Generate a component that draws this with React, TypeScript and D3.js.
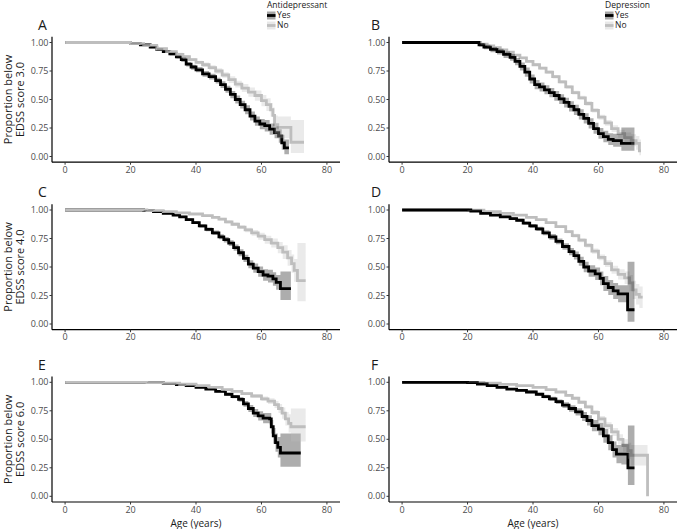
import React from "react";
import * as d3 from "d3";

type Row = [number, number, number, number]; // age, survival, lower, upper

const xTicks = [0, 20, 40, 60, 80];
const yTicks = [0, 0.25, 0.5, 0.75, 1];
const yTickLabels = ["0.00", "0.25", "0.50", "0.75", "1.00"];
const groups = ["Yes", "No"];
const legendTitles = ["Antidepressant", "Depression"];
const edssScores = ["3.0", "4.0", "6.0"];
const panelLetters = ["A", "B", "C", "D", "E", "F"];
const xTitle = "Age (years)";

const aYes: Row[] = [
  [0, 1, 1, 1], [20, 0.99, 0.985, 0.995], [23, 0.98, 0.97, 0.99], [26, 0.96, 0.95, 0.97],
  [28, 0.94, 0.93, 0.95], [30, 0.92, 0.91, 0.935], [32, 0.9, 0.885, 0.915], [34, 0.875, 0.86, 0.89],
  [35.5, 0.85, 0.83, 0.87], [37, 0.81, 0.79, 0.83], [38.5, 0.785, 0.76, 0.805], [40, 0.76, 0.74, 0.785],
  [42, 0.725, 0.7, 0.75], [44, 0.7, 0.675, 0.725], [46, 0.665, 0.64, 0.69], [47.5, 0.63, 0.6, 0.66],
  [49, 0.59, 0.56, 0.62], [50.5, 0.545, 0.51, 0.575], [52, 0.5, 0.465, 0.535], [53.5, 0.455, 0.42, 0.49],
  [55, 0.41, 0.37, 0.45], [56.5, 0.355, 0.315, 0.395], [58, 0.31, 0.27, 0.35], [59.5, 0.285, 0.24, 0.33],
  [61, 0.27, 0.22, 0.32], [62.5, 0.24, 0.19, 0.29], [64, 0.21, 0.16, 0.265], [65.3, 0.18, 0.12, 0.24],
  [66.2, 0.12, 0.06, 0.19], [67, 0.075, 0.02, 0.15], [68.4, 0.075, 0.02, 0.15],
];
const aNo: Row[] = [
  [0, 1, 1, 1], [20, 0.99, 0.985, 0.995], [24, 0.975, 0.97, 0.98], [28, 0.945, 0.935, 0.955],
  [31, 0.92, 0.91, 0.93], [34, 0.895, 0.88, 0.91], [36, 0.875, 0.86, 0.89], [38, 0.85, 0.835, 0.865],
  [40, 0.825, 0.81, 0.84], [42, 0.805, 0.785, 0.825], [44, 0.78, 0.76, 0.8], [46, 0.75, 0.725, 0.775],
  [48, 0.715, 0.69, 0.74], [50, 0.675, 0.645, 0.705], [52, 0.635, 0.605, 0.665], [54, 0.6, 0.565, 0.635],
  [56, 0.565, 0.525, 0.605], [58, 0.535, 0.49, 0.58], [60, 0.49, 0.44, 0.54], [61.5, 0.455, 0.4, 0.51],
  [62.8, 0.41, 0.35, 0.47], [63.5, 0.36, 0.29, 0.43], [64, 0.28, 0.2, 0.36], [65, 0.255, 0.16, 0.35],
  [69, 0.125, 0.03, 0.32], [73, 0.125, 0.03, 0.32],
];
const bYes: Row[] = [
  [0, 1, 1, 1], [22, 1, 1, 1], [23.5, 0.98, 0.965, 0.995], [25, 0.96, 0.94, 0.98], [27, 0.94, 0.915, 0.96],
  [29, 0.92, 0.895, 0.945], [31, 0.895, 0.865, 0.92], [33, 0.87, 0.84, 0.9], [34.5, 0.835, 0.8, 0.865],
  [36, 0.79, 0.755, 0.825], [37.5, 0.74, 0.7, 0.78], [39, 0.68, 0.64, 0.72], [40.5, 0.63, 0.59, 0.67],
  [42, 0.61, 0.57, 0.65], [43.5, 0.585, 0.545, 0.625], [45, 0.56, 0.52, 0.6], [46.5, 0.535, 0.49, 0.575],
  [48, 0.505, 0.46, 0.545], [49.5, 0.475, 0.43, 0.515], [51, 0.44, 0.395, 0.485], [52.5, 0.41, 0.365, 0.455],
  [54, 0.37, 0.325, 0.415], [55.5, 0.335, 0.29, 0.38], [57, 0.29, 0.245, 0.335], [58.5, 0.245, 0.2, 0.295],
  [60, 0.2, 0.155, 0.25], [61.5, 0.175, 0.125, 0.225], [63, 0.15, 0.1, 0.205], [64.5, 0.14, 0.085, 0.2],
  [67, 0.115, 0.05, 0.255], [71, 0.115, 0.05, 0.255],
];
const bNo: Row[] = [
  [0, 1, 1, 1], [22, 1, 1, 1], [24, 0.985, 0.98, 0.99], [26, 0.97, 0.965, 0.975], [28, 0.955, 0.948, 0.962],
  [30, 0.935, 0.927, 0.943], [32, 0.915, 0.906, 0.924], [34, 0.89, 0.88, 0.9], [36, 0.865, 0.855, 0.875],
  [38, 0.835, 0.824, 0.846], [40, 0.805, 0.793, 0.817], [42, 0.775, 0.762, 0.788], [44, 0.74, 0.726, 0.754],
  [46, 0.7, 0.685, 0.715], [48, 0.655, 0.64, 0.67], [50, 0.61, 0.594, 0.626], [52, 0.56, 0.543, 0.577],
  [54, 0.515, 0.497, 0.533], [56, 0.465, 0.446, 0.484], [58, 0.405, 0.385, 0.425], [60, 0.345, 0.323, 0.367],
  [62, 0.295, 0.27, 0.32], [64, 0.245, 0.215, 0.275], [66, 0.2, 0.165, 0.235], [68, 0.165, 0.125, 0.21],
  [70, 0.14, 0.09, 0.195], [71.5, 0.115, 0.06, 0.18], [72.5, 0.05, 0.01, 0.15], [73, 0.05, 0.01, 0.15],
];
const cYes: Row[] = [
  [0, 1, 1, 1], [24, 0.995, 0.99, 1], [27, 0.985, 0.98, 0.99], [30, 0.97, 0.963, 0.977], [33, 0.955, 0.946, 0.964],
  [35, 0.94, 0.93, 0.95], [37, 0.915, 0.903, 0.927], [39, 0.89, 0.877, 0.903], [41, 0.86, 0.845, 0.875],
  [43, 0.83, 0.813, 0.847], [45, 0.8, 0.78, 0.82], [47, 0.765, 0.743, 0.787], [48.5, 0.74, 0.716, 0.764],
  [50, 0.71, 0.685, 0.735], [51.5, 0.67, 0.643, 0.697], [53, 0.625, 0.595, 0.655], [54.5, 0.575, 0.543, 0.607],
  [56, 0.525, 0.49, 0.56], [57.5, 0.49, 0.45, 0.53], [59, 0.46, 0.415, 0.505], [60.5, 0.43, 0.38, 0.48],
  [62, 0.42, 0.365, 0.475], [63.5, 0.395, 0.335, 0.455], [64.5, 0.365, 0.3, 0.43], [65.8, 0.31, 0.21, 0.46],
  [69, 0.31, 0.21, 0.46],
];
const cNo: Row[] = [
  [0, 1, 1, 1], [25, 0.995, 0.99, 1], [30, 0.985, 0.98, 0.99], [34, 0.975, 0.97, 0.98], [38, 0.965, 0.958, 0.972],
  [42, 0.95, 0.942, 0.958], [45, 0.935, 0.925, 0.945], [47, 0.92, 0.908, 0.932], [49, 0.895, 0.882, 0.908],
  [51, 0.875, 0.86, 0.89], [53, 0.85, 0.833, 0.867], [55, 0.825, 0.805, 0.845], [57, 0.8, 0.775, 0.825],
  [59, 0.77, 0.74, 0.8], [61, 0.74, 0.705, 0.775], [63, 0.71, 0.67, 0.75], [65, 0.67, 0.62, 0.72],
  [66.5, 0.63, 0.57, 0.69], [68, 0.58, 0.51, 0.65], [69.2, 0.53, 0.45, 0.61], [70, 0.47, 0.37, 0.57],
  [71, 0.38, 0.2, 0.71], [73.5, 0.38, 0.2, 0.71],
];
const dYes: Row[] = [
  [0, 1, 1, 1], [19, 1, 1, 1], [21, 0.99, 0.985, 0.995], [24, 0.97, 0.962, 0.978], [27, 0.955, 0.945, 0.965],
  [30, 0.94, 0.929, 0.951], [33, 0.925, 0.913, 0.937], [35, 0.91, 0.897, 0.923], [37, 0.885, 0.87, 0.9],
  [39, 0.86, 0.843, 0.877], [41, 0.835, 0.816, 0.854], [43, 0.8, 0.778, 0.822], [45, 0.765, 0.74, 0.79],
  [47, 0.725, 0.7, 0.75], [49, 0.68, 0.652, 0.708], [51, 0.635, 0.603, 0.667], [52.5, 0.6, 0.565, 0.635],
  [54, 0.55, 0.51, 0.59], [55.5, 0.5, 0.455, 0.545], [57, 0.465, 0.415, 0.515], [59, 0.44, 0.385, 0.495],
  [60.5, 0.4, 0.34, 0.46], [61.5, 0.355, 0.29, 0.42], [63, 0.32, 0.255, 0.385], [64.5, 0.29, 0.22, 0.36],
  [66, 0.265, 0.19, 0.34], [68.9, 0.125, 0.02, 0.545], [71, 0.125, 0.02, 0.545],
];
const dNo: Row[] = [
  [0, 1, 1, 1], [20, 0.998, 0.995, 1], [25, 0.985, 0.981, 0.989], [30, 0.97, 0.965, 0.975], [34, 0.955, 0.949, 0.961],
  [38, 0.935, 0.928, 0.942], [41, 0.915, 0.907, 0.923], [44, 0.89, 0.88, 0.9], [47, 0.855, 0.843, 0.867],
  [50, 0.81, 0.796, 0.824], [52, 0.775, 0.759, 0.791], [54, 0.735, 0.717, 0.753], [56, 0.69, 0.67, 0.71],
  [58, 0.64, 0.617, 0.663], [60, 0.585, 0.56, 0.61], [62, 0.53, 0.5, 0.56], [64, 0.475, 0.44, 0.51],
  [66, 0.435, 0.39, 0.48], [68, 0.405, 0.35, 0.46], [69.5, 0.36, 0.29, 0.43], [70.5, 0.3, 0.22, 0.38],
  [71.5, 0.26, 0.17, 0.35], [72.5, 0.235, 0.14, 0.33], [73.5, 0.235, 0.14, 0.33],
];
const eYes: Row[] = [
  [0, 1, 1, 1], [25, 0.998, 0.996, 1], [30, 0.99, 0.987, 0.993], [34, 0.98, 0.976, 0.984], [37, 0.97, 0.965, 0.975],
  [40, 0.955, 0.948, 0.962], [43, 0.94, 0.932, 0.948], [46, 0.92, 0.91, 0.93], [49, 0.895, 0.883, 0.907],
  [51, 0.875, 0.861, 0.889], [53, 0.85, 0.83, 0.87], [54.5, 0.81, 0.785, 0.835], [56, 0.77, 0.74, 0.8],
  [57.5, 0.73, 0.695, 0.765], [59, 0.705, 0.665, 0.745], [60.5, 0.685, 0.64, 0.73], [62.5, 0.68, 0.63, 0.73],
  [63, 0.61, 0.55, 0.67], [63.6, 0.53, 0.46, 0.6], [64.3, 0.47, 0.39, 0.55], [65, 0.43, 0.34, 0.52],
  [65.8, 0.38, 0.26, 0.55], [72, 0.38, 0.26, 0.55],
];
const eNo: Row[] = [
  [0, 1, 1, 1], [25, 0.998, 0.996, 1], [30, 0.992, 0.989, 0.995], [35, 0.983, 0.979, 0.987], [40, 0.97, 0.965, 0.975],
  [44, 0.955, 0.949, 0.961], [48, 0.935, 0.927, 0.943], [51, 0.92, 0.91, 0.93], [54, 0.9, 0.888, 0.912],
  [57, 0.88, 0.865, 0.895], [60, 0.855, 0.835, 0.875], [62, 0.835, 0.81, 0.86], [64, 0.805, 0.775, 0.835],
  [65.2, 0.77, 0.73, 0.81], [66.3, 0.73, 0.68, 0.78], [67.3, 0.68, 0.62, 0.74], [68.3, 0.64, 0.56, 0.72],
  [69, 0.61, 0.48, 0.77], [73.5, 0.61, 0.48, 0.77],
];
const fYes: Row[] = [
  [0, 1, 1, 1], [20, 0.998, 0.995, 1], [23, 0.985, 0.98, 0.99], [26, 0.97, 0.964, 0.976], [29, 0.955, 0.948, 0.962],
  [32, 0.94, 0.932, 0.948], [35, 0.93, 0.92, 0.94], [38, 0.915, 0.903, 0.927], [41, 0.895, 0.881, 0.909],
  [43, 0.875, 0.86, 0.89], [45, 0.855, 0.837, 0.873], [47, 0.83, 0.81, 0.85], [49, 0.8, 0.775, 0.825],
  [51, 0.77, 0.742, 0.798], [53, 0.74, 0.708, 0.772], [55, 0.7, 0.66, 0.74], [56.5, 0.665, 0.62, 0.71],
  [58, 0.62, 0.57, 0.67], [60, 0.59, 0.535, 0.645], [61.5, 0.53, 0.47, 0.59], [63, 0.47, 0.405, 0.535],
  [64.3, 0.41, 0.34, 0.48], [65.5, 0.37, 0.29, 0.45], [67, 0.37, 0.28, 0.46], [69, 0.25, 0.1, 0.62],
  [71, 0.25, 0.1, 0.62],
];
const fNo: Row[] = [
  [0, 1, 1, 1], [20, 0.999, 0.997, 1], [25, 0.992, 0.989, 0.995], [30, 0.982, 0.978, 0.986], [35, 0.97, 0.965, 0.975],
  [40, 0.955, 0.949, 0.961], [44, 0.935, 0.928, 0.942], [47, 0.915, 0.906, 0.924], [50, 0.885, 0.874, 0.896],
  [52, 0.86, 0.847, 0.873], [54, 0.825, 0.81, 0.84], [56, 0.785, 0.767, 0.803], [58, 0.735, 0.714, 0.756],
  [60, 0.68, 0.655, 0.705], [62, 0.62, 0.59, 0.65], [64, 0.565, 0.53, 0.6], [66, 0.5, 0.455, 0.545],
  [67.5, 0.445, 0.39, 0.5], [69, 0.4, 0.33, 0.47], [70, 0.36, 0.27, 0.45], [75, 0, 0.27, 0.45],
];

const curves: Row[][][] = [
  [aYes, aNo], [bYes, bNo], [cYes, cNo], [dYes, dNo], [eYes, eNo], [fYes, fNo],
];

const FONT = "'Open Sans', 'Noto Sans', sans-serif";
const LINE_COLORS = ["#000000", "#bebebe"];
const colLeft = [52, 389];
const rowTop = [36.8, 204.3, 376.6];
const PW = 288;
const PH = 125.4;

function Legend({ x0, title }: { x0: number; title: string }) {
  return (
    <g fontFamily={FONT}>
      <text x={x0} y={7.5} fontSize={8.5} fill="#1a1a1a">
        {title}
      </text>
      {groups.map((g, i) => {
        const yc = 15.5 + i * 10;
        return (
          <g key={g}>
            <rect x={x0} y={yc - 4} width={8.5} height={8} fill={LINE_COLORS[i]} fillOpacity={0.35} />
            <line x1={x0} x2={x0 + 8.5} y1={yc} y2={yc} stroke={LINE_COLORS[i]} strokeWidth={2.8} />
            <text x={x0 + 10} y={yc} dy="0.35em" fontSize={8.5} fill="#1a1a1a">
              {g}
            </text>
          </g>
        );
      })}
    </g>
  );
}

function Panel({ idx }: { idx: number }) {
  const col = idx % 2;
  const row = Math.floor(idx / 2);
  const x0 = colLeft[col];
  const top = rowTop[row];
  const bottom = top + PH;
  const x = d3.scaleLinear().domain([-4, 84]).range([x0, x0 + PW]);
  const y = d3.scaleLinear().domain([-0.05, 1.05]).range([bottom, top]);
  const line = d3.line<Row>().x((d) => x(d[0])).y((d) => y(d[1])).curve(d3.curveStepAfter);
  const area = d3
    .area<Row>()
    .x((d) => x(d[0]))
    .y0((d) => y(d[2]))
    .y1((d) => y(d[3]))
    .curve(d3.curveStepAfter);
  const data = curves[idx];
  // in the left column the "No" line lies on top, in the right column the "Yes" line
  const order = col === 0 ? [0, 1] : [1, 0];
  return (
    <g>
      {order.map((g) => (
        <path key={"l" + g} d={line(data[g]) || ""} fill="none" stroke={LINE_COLORS[g]} strokeWidth={2.8} />
      ))}
      {order.map((g) => (
        <path key={"a" + g} d={area(data[g]) || ""} fill={LINE_COLORS[g]} fillOpacity={0.32} stroke="none" />
      ))}
      <line x1={x0} x2={x0} y1={top} y2={bottom} stroke="#000" strokeWidth={1.2} />
      <line x1={x0} x2={x0 + PW} y1={bottom} y2={bottom} stroke="#000" strokeWidth={1.2} />
      {yTicks.map((t, i) => (
        <g key={"y" + i}>
          <line x1={x0 - 2.5} x2={x0} y1={y(t)} y2={y(t)} stroke="#333" strokeWidth={1} />
          <text x={x0 - 3.5} y={y(t)} dy="0.34em" textAnchor="end" fontSize={9} fill="#4d4d4d" fontFamily={FONT}>
            {yTickLabels[i]}
          </text>
        </g>
      ))}
      {xTicks.map((t, i) => (
        <g key={"x" + i}>
          <line x1={x(t)} x2={x(t)} y1={bottom} y2={bottom + 2.5} stroke="#333" strokeWidth={1} />
          <text x={x(t)} y={bottom + 10.5} textAnchor="middle" fontSize={9} fill="#4d4d4d" fontFamily={FONT}>
            {t}
          </text>
        </g>
      ))}
      <text x={col === 0 ? 38 : 371} y={top - 7} fontSize={14} fill="#1a1a1a" fontFamily={FONT}>
        {panelLetters[idx]}
      </text>
      {col === 0 && (
        <g transform={`translate(0,${(top + bottom) / 2}) rotate(-90)`}>
          <text x={0} y={11.5} textAnchor="middle" fontSize={11} fill="#1a1a1a" fontFamily={FONT}>
            Proportion below
          </text>
          <text x={0} y={24} textAnchor="middle" fontSize={11} fill="#1a1a1a" fontFamily={FONT}>
            {"EDSS score " + edssScores[row]}
          </text>
        </g>
      )}
      {row === 2 && (
        <text x={x0 + PW / 2} y={bottom + 24.5} textAnchor="middle" fontSize={10} fill="#1a1a1a" fontFamily={FONT}>
          {xTitle}
        </text>
      )}
      {row === 0 && <Legend x0={col === 0 ? 267 : 605} title={legendTitles[col]} />}
    </g>
  );
}

export default function App() {
  return (
    <svg width={677} height={529} style={{ position: "absolute", left: 0, top: 0, background: "#fff" }}>
      <rect width={677} height={529} fill="#fff" />
      {panelLetters.map((_, i) => (
        <Panel key={i} idx={i} />
      ))}
    </svg>
  );
}
